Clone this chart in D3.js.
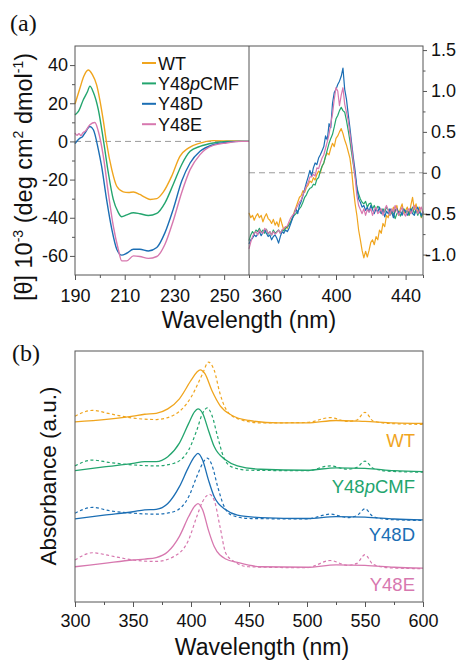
<!DOCTYPE html>
<html>
<head>
<meta charset="utf-8">
<script src="https://cdn.jsdelivr.net/npm/d3@7"></script>
<style>
  body { margin: 0; background: #fff; }
  text { font-family: "Liberation Sans", Arial, Helvetica, sans-serif; fill: #111; }
</style>
</head>
<body>
<div id="chart"></div>
<script>
// ---------------- data ----------------
var variants = ["WT", "Y48pCMF", "Y48D", "Y48E"];
var colors = ["#F0A51E", "#23A56E", "#1B6EB4", "#D778AF"];

// far-UV CD, [nm, theta x 10^-3]
var uvWT = [[190,19.6],[192,28],[193.5,34],[195.3,37.4],[197,35],[198.7,29.6],[200,21.7],[201.5,10],[202.7,-0.7],[204.8,-14.8],[206.8,-23.5],[209.4,-26.4],[211.5,-26.8],[213.5,-26.5],[216.1,-27.8],[218,-29.2],[220.2,-30.4],[222.9,-30],[225.5,-26.6],[228.9,-18.2],[232.2,-7.8],[235.6,-3.5],[240.3,-0.9],[245.6,0.4],[253.6,0.2],[260,0]];
var uvCMF = [[190,13.9],[191.5,16],[193.3,21.7],[195,26],[196,29],[197.3,26],[199.4,16.5],[201.4,0.9],[203.4,-16.4],[205.4,-30.4],[207.4,-37.2],[208.8,-39.5],[210.8,-38.5],[213.5,-37.4],[216.1,-37.9],[219.5,-38.8],[222.9,-37.7],[226.2,-32.2],[229.5,-22.6],[232.9,-12.2],[236.3,-5.2],[240.3,-2.6],[245.6,-0.8],[251,0],[260,0]];
var uvD = [[190,-1.2],[191,0.5],[192,1.7],[193,2.5],[194,4.4],[196,7.8],[197.4,6.1],[199.4,-4.3],[200.7,-13],[202.7,-30.4],[204.8,-46],[206.8,-56.5],[208.8,-59.6],[210.8,-58.6],[213.5,-56.5],[216.1,-56.5],[219.5,-57.4],[222.9,-55.6],[226.2,-47.8],[229.5,-35.6],[232.9,-20.9],[236.3,-11.3],[240.3,-5.2],[245.6,-1.7],[251,-0.5],[256,0],[260,0]];
var uvE = [[190,4.4],[190.8,3.2],[191.6,4.1],[192.4,3.0],[193.2,4.6],[194,5.2],[196,8.7],[198,9.9],[199.4,5.2],[201.4,-7.8],[203.4,-26.9],[205.4,-44.3],[207.4,-56.5],[208.8,-62.6],[210.8,-62.6],[213.5,-60],[216.1,-60.3],[219.5,-61.3],[222.9,-60.3],[226.2,-53.9],[229.5,-41.7],[232.9,-26.9],[236.3,-14.8],[240.3,-6.9],[245.6,-2.1],[251,-0.8],[257,0],[260,0]];

// visible CD, one value per nm from 350 to 450
var visNm = d3.range(350, 451);
var visWT = [-0.49,-0.55,-0.52,-0.58,-0.53,-0.50,-0.55,-0.52,-0.60,-0.54,-0.50,-0.56,-0.58,-0.62,-0.57,-0.64,-0.60,-0.66,-0.55,-0.63,-0.70,-0.66,-0.68,-0.62,-0.60,-0.55,-0.48,-0.42,-0.36,-0.30,-0.28,-0.22,-0.24,-0.18,-0.15,-0.10,-0.12,-0.06,-0.09,-0.02,0.02,0.00,0.08,0.12,0.20,0.24,0.22,0.30,0.36,0.32,0.42,0.45,0.50,0.54,0.48,0.40,0.34,0.26,0.18,0.02,-0.20,-0.38,-0.52,-0.70,-0.82,-0.95,-1.04,-0.96,-1.03,-0.95,-0.85,-0.82,-0.88,-0.78,-0.82,-0.70,-0.74,-0.62,-0.66,-0.52,-0.55,-0.45,-0.50,-0.42,-0.48,-0.40,-0.52,-0.44,-0.38,-0.50,-0.46,-0.42,-0.52,-0.40,-0.30,-0.45,-0.38,-0.50,-0.42,-0.55,-0.48];
var visCMF = [-0.83,-0.76,-0.72,-0.75,-0.70,-0.72,-0.68,-0.73,-0.70,-0.74,-0.69,-0.75,-0.72,-0.76,-0.70,-0.74,-0.72,-0.70,-0.74,-0.70,-0.71,-0.68,-0.66,-0.64,-0.60,-0.55,-0.52,-0.50,-0.47,-0.44,-0.41,-0.36,-0.30,-0.27,-0.22,-0.19,-0.18,-0.14,-0.15,-0.08,-0.06,0.02,0.08,0.12,0.20,0.28,0.36,0.42,0.47,0.56,0.66,0.70,0.76,0.80,0.76,0.74,0.64,0.52,0.39,0.24,0.10,-0.04,-0.18,-0.26,-0.32,-0.36,-0.38,-0.35,-0.42,-0.38,-0.37,-0.44,-0.40,-0.46,-0.41,-0.43,-0.50,-0.44,-0.48,-0.42,-0.45,-0.52,-0.46,-0.50,-0.56,-0.50,-0.47,-0.53,-0.48,-0.44,-0.49,-0.46,-0.52,-0.47,-0.42,-0.50,-0.45,-0.52,-0.46,-0.54,-0.48];
var visD = [-0.87,-0.82,-0.80,-0.76,-0.78,-0.75,-0.72,-0.77,-0.73,-0.70,-0.74,-0.78,-0.76,-0.82,-0.78,-0.76,-0.80,-0.86,-0.78,-0.72,-0.74,-0.70,-0.72,-0.68,-0.62,-0.56,-0.50,-0.44,-0.50,-0.40,-0.35,-0.28,-0.20,-0.12,-0.05,0.03,-0.04,0.06,0.12,0.10,0.18,0.22,0.27,0.32,0.45,0.40,0.60,0.55,0.85,0.98,1.02,1.08,1.12,1.18,1.28,1.02,0.90,0.72,0.55,0.36,0.18,0.02,-0.18,-0.32,-0.36,-0.42,-0.40,-0.46,-0.42,-0.48,-0.40,-0.45,-0.50,-0.44,-0.48,-0.42,-0.50,-0.46,-0.54,-0.47,-0.50,-0.44,-0.48,-0.55,-0.46,-0.44,-0.50,-0.47,-0.52,-0.45,-0.47,-0.52,-0.48,-0.44,-0.50,-0.52,-0.46,-0.42,-0.48,-0.52,-0.47];
var visE = [-0.93,-0.85,-0.78,-0.74,-0.72,-0.76,-0.70,-0.73,-0.74,-0.68,-0.70,-0.74,-0.72,-0.76,-0.72,-0.75,-0.73,-0.70,-0.74,-0.70,-0.68,-0.66,-0.65,-0.60,-0.55,-0.52,-0.50,-0.44,-0.40,-0.36,-0.33,-0.27,-0.22,-0.16,-0.12,-0.05,-0.05,-0.02,-0.04,0.06,0.05,0.12,0.18,0.22,0.30,0.38,0.47,0.60,0.72,0.90,1.04,1.00,0.82,0.95,1.04,0.84,0.74,0.64,0.48,0.31,0.12,-0.06,-0.28,-0.40,-0.45,-0.50,-0.44,-0.52,-0.45,-0.48,-0.44,-0.52,-0.46,-0.42,-0.50,-0.48,-0.44,-0.52,-0.45,-0.40,-0.46,-0.52,-0.44,-0.48,-0.40,-0.46,-0.52,-0.47,-0.42,-0.50,-0.53,-0.46,-0.44,-0.50,-0.46,-0.40,-0.44,-0.50,-0.46,-0.42,-0.50];

// absorbance, [nm, a.u. above the trace baseline]; solid and dashed traces
var absOffsets = [3.7, 2.7, 1.7, 0.7];
var absWT = [[300,0.03],[350,0.15],[360,0.19],[370,0.21],[380,0.30],[390,0.51],[400,0.89],[405,1.06],[408,1.11],[412,1.03],[418,0.68],[425,0.37],[435,0.17],[450,0.06],[475,0.01],[500,0.01],[525,0.06],[550,0.04],[575,0.01],[600,0]];
var absWTd = [[300,0.15],[315,0.27],[330,0.20],[350,0.11],[370,0.08],[385,0.17],[400,0.54],[410,1.03],[415,1.27],[420,1.10],[425,0.62],[430,0.30],[440,0.10],[460,0.01],[500,0.02],[520,0.12],[535,0.04],[543,0.07],[550,0.23],[557,0.05],[570,0],[600,-0.02]];
var absCMF = [[300,0.02],[325,0.10],[350,0.17],[360,0.21],[370,0.21],[380,0.31],[390,0.59],[398,1.0],[403,1.24],[406,1.30],[410,1.21],[415,0.86],[420,0.52],[430,0.24],[440,0.12],[460,0.05],[500,0.03],[525,0.08],[550,0.07],[575,0.02],[600,0]];
var absCMFd = [[300,0.12],[315,0.24],[330,0.19],[350,0.14],[370,0.12],[385,0.17],[398,0.45],[405,0.86],[410,1.21],[414,1.32],[418,1.17],[423,0.72],[428,0.31],[435,0.10],[450,0.03],[500,0.02],[520,0.12],[535,0.05],[543,0.09],[550,0.22],[557,0.07],[570,0.01],[600,-0.01]];
var absD = [[300,0.02],[325,0.10],[350,0.17],[360,0.21],[370,0.22],[380,0.34],[390,0.69],[398,1.10],[403,1.31],[406,1.38],[410,1.24],[415,0.83],[420,0.48],[430,0.21],[440,0.10],[460,0.05],[500,0.03],[525,0.07],[550,0.06],[575,0.02],[600,0]];
var absDd = [[300,0.14],[315,0.26],[330,0.19],[350,0.14],[370,0.12],[385,0.17],[398,0.48],[405,0.90],[410,1.17],[414,1.28],[418,1.14],[423,0.69],[428,0.31],[435,0.10],[450,0.03],[500,0.02],[520,0.12],[535,0.05],[543,0.09],[550,0.23],[557,0.07],[570,0.01],[600,-0.01]];
var absE = [[300,0.03],[325,0.10],[350,0.17],[360,0.19],[370,0.22],[380,0.34],[390,0.66],[398,1.07],[403,1.28],[406,1.34],[410,1.21],[415,0.79],[420,0.45],[430,0.19],[440,0.12],[460,0.03],[500,0.02],[525,0.07],[550,0.06],[575,0.02],[600,0]];
var absEd = [[300,0.17],[315,0.32],[330,0.26],[350,0.17],[370,0.14],[385,0.24],[398,0.59],[405,1.07],[410,1.38],[416,1.53],[420,1.41],[425,0.86],[430,0.31],[437,0.14],[450,0.03],[500,0.01],[520,0.16],[535,0.06],[543,0.10],[550,0.28],[557,0.08],[570,0.01],[600,-0.01]];

var uvSeries = [uvWT, uvCMF, uvD, uvE];
var visSeries = [visWT, visCMF, visD, visE];
var absSolid = [absWT, absCMF, absD, absE];
var absDash = [absWTd, absCMFd, absDd, absEd];

// ---------------- svg ----------------
var svg = d3.select("#chart").append("svg")
  .attr("width", 465).attr("height", 660);

var frameColor = "#555";
var tickFont = "18px";

function styleAxis(g) {
  g.select(".domain").remove();
  g.selectAll(".tick line").attr("stroke", frameColor);
  g.selectAll(".tick text").style("font-size", tickFont).style("fill", "#111");
}
function hyphen(v, digits) {
  if (v === 0) return "0";
  return (v < 0 ? "-" : "") + Math.abs(v).toFixed(digits);
}

// ---------------- panel (a) ----------------
var aTop = 46, aBottom = 275;
var xL = d3.scaleLinear().domain([190, 260]).range([75, 249]);
var xR = d3.scaleLinear().domain([350, 450]).range([249, 423]);
var yL = d3.scaleLinear().domain([-70, 50]).range([aBottom, aTop]);
var yR = d3.scaleLinear().domain([-1.25, 1.55]).range([aBottom, aTop]);

// zero lines
svg.append("line").attr("x1", xL(190)).attr("x2", xL(260)).attr("y1", yL(0)).attr("y2", yL(0))
  .attr("stroke", "#9a9a9a").attr("stroke-width", 1).attr("stroke-dasharray", "6,4");
svg.append("line").attr("x1", xR(350)).attr("x2", xR(450)).attr("y1", yR(0)).attr("y2", yR(0))
  .attr("stroke", "#9a9a9a").attr("stroke-width", 1).attr("stroke-dasharray", "6,4");

var lineUv = d3.line().x(function(d) { return xL(d[0]); }).y(function(d) { return yL(d[1]); })
  .curve(d3.curveMonotoneX);
var lineVis = d3.line().x(function(d, i) { return xR(visNm[i]); }).y(function(d) { return yR(d); });

uvSeries.forEach(function(s, i) {
  svg.append("path").attr("d", lineUv(s)).attr("fill", "none")
    .attr("stroke", colors[i]).attr("stroke-width", 1.4);
});
visSeries.forEach(function(s, i) {
  svg.append("path").attr("d", lineVis(s)).attr("fill", "none")
    .attr("stroke", colors[i]).attr("stroke-width", 1.2).attr("stroke-linejoin", "round");
});

// frames
svg.append("rect").attr("x", xL(190)).attr("y", aTop).attr("width", xR(450) - xL(190)).attr("height", aBottom - aTop)
  .attr("fill", "none").attr("stroke", frameColor).attr("stroke-width", 1);
svg.append("line").attr("x1", xL(260)).attr("x2", xL(260)).attr("y1", aTop).attr("y2", aBottom)
  .attr("stroke", frameColor).attr("stroke-width", 1);

// axes
svg.append("g").attr("transform", "translate(0," + aBottom + ")")
  .call(d3.axisBottom(xL).tickValues([190, 210, 230, 250]).tickSize(5).tickPadding(9).tickFormat(d3.format("d")))
  .call(styleAxis);
svg.append("g").attr("transform", "translate(0," + aBottom + ")")
  .call(d3.axisBottom(xL).tickValues([200, 220, 240, 260]).tickSize(3).tickFormat(""))
  .call(styleAxis);
svg.append("g").attr("transform", "translate(0," + aBottom + ")")
  .call(d3.axisBottom(xR).tickValues([360, 400, 440]).tickSize(5).tickPadding(9).tickFormat(d3.format("d")))
  .call(styleAxis);
svg.append("g").attr("transform", "translate(0," + aBottom + ")")
  .call(d3.axisBottom(xR).tickValues([370, 380, 390, 410, 420, 430, 450]).tickSize(3).tickFormat(""))
  .call(styleAxis);

svg.append("g").attr("transform", "translate(" + xL(190) + ",0)")
  .call(d3.axisLeft(yL).tickValues([-60, -40, -20, 0, 20, 40]).tickSize(5).tickPadding(2)
    .tickFormat(function(d) { return hyphen(d, 0); }))
  .call(styleAxis);
svg.append("g").attr("transform", "translate(" + xL(190) + ",0)")
  .call(d3.axisLeft(yL).tickValues([-50, -30, -10, 10, 30]).tickSize(3).tickFormat(""))
  .call(styleAxis);

var gyr = svg.append("g").attr("transform", "translate(" + xR(450) + ",0)")
  .call(d3.axisRight(yR).tickValues([-1, -0.5, 0, 0.5, 1, 1.5]).tickSize(4).tickPadding(4)
    .tickFormat(function(d) { return hyphen(d, 1); }))
  .call(styleAxis);
gyr.selectAll(".tick text").attr("x", function(d) { return d < 0 ? 2 : 8; });
svg.append("g").attr("transform", "translate(" + xR(450) + ",0)")
  .call(d3.axisRight(yR).tickValues([-0.75, -0.25, 0.25, 0.75, 1.25]).tickSize(2.5).tickFormat(""))
  .call(styleAxis);

// legend
var legend = svg.append("g").attr("transform", "translate(142,63)");
variants.forEach(function(v, i) {
  var row = legend.append("g").attr("transform", "translate(0," + (i * 20.4) + ")");
  row.append("line").attr("x1", 0).attr("x2", 14).attr("y1", 0).attr("y2", 0)
    .attr("stroke", colors[i]).attr("stroke-width", 2);
  var t = row.append("text").attr("x", 16).attr("y", 6.5).style("font-size", "18px");
  if (v === "Y48pCMF") {
    t.append("tspan").text("Y48");
    t.append("tspan").style("font-style", "italic").text("p");
    t.append("tspan").text("CMF");
  } else {
    t.text(v);
  }
});

// titles
svg.append("text").attr("x", 249).attr("y", 328).attr("text-anchor", "middle")
  .style("font-size", "23px").text("Wavelength (nm)");

var yt = svg.append("text").attr("transform", "translate(32,177) rotate(-90)")
  .attr("text-anchor", "middle").style("font-size", "23.5px");
yt.append("tspan").text("[\u03B8] 10");
yt.append("tspan").attr("dy", -9).style("font-size", "14px").text("-3");
yt.append("tspan").attr("dy", 9).text(" (deg cm");
yt.append("tspan").attr("dy", -9).style("font-size", "14px").text("2");
yt.append("tspan").attr("dy", 9).text(" dmol");
yt.append("tspan").attr("dy", -9).style("font-size", "14px").text("-1");
yt.append("tspan").attr("dy", 9).text(")");

svg.append("text").attr("x", 10).attr("y", 31)
  .style("font-family", "'Liberation Serif', 'Times New Roman', serif").style("font-size", "24px").text("(a)");

// ---------------- panel (b) ----------------
var bTop = 351, bBottom = 602;
var xB = d3.scaleLinear().domain([300, 600]).range([75, 423]);
var yB = d3.scaleLinear().domain([0, 5.2]).range([bBottom, bTop]);

absSolid.forEach(function(s, i) {
  var off = absOffsets[i];
  var ln = d3.line().x(function(d) { return xB(d[0]); }).y(function(d) { return yB(off + d[1]); })
    .curve(d3.curveMonotoneX);
  svg.append("path").attr("d", ln(absDash[i])).attr("fill", "none")
    .attr("stroke", colors[i]).attr("stroke-width", 1.2).attr("stroke-dasharray", "3,2.5");
  svg.append("path").attr("d", ln(s)).attr("fill", "none")
    .attr("stroke", colors[i]).attr("stroke-width", 1.3);
});

svg.append("rect").attr("x", xB(300)).attr("y", bTop).attr("width", xB(600) - xB(300)).attr("height", bBottom - bTop)
  .attr("fill", "none").attr("stroke", frameColor).attr("stroke-width", 1);

svg.append("g").attr("transform", "translate(0," + bBottom + ")")
  .call(d3.axisBottom(xB).tickValues([300, 350, 400, 450, 500, 550, 600]).tickSize(5).tickPadding(7).tickFormat(d3.format("d")))
  .call(styleAxis);
svg.append("g").attr("transform", "translate(0," + bBottom + ")")
  .call(d3.axisBottom(xB).tickValues([325, 375, 425, 475, 525, 575]).tickSize(3).tickFormat(""))
  .call(styleAxis);

var labelY = [446.5, 493, 541, 591];
variants.forEach(function(v, i) {
  var t = svg.append("text").attr("x", 415).attr("y", labelY[i]).attr("text-anchor", "end")
    .style("font-size", "18.5px").style("fill", colors[i]);
  if (v === "Y48pCMF") {
    t.append("tspan").text("Y48");
    t.append("tspan").style("font-style", "italic").text("p");
    t.append("tspan").text("CMF");
  } else {
    t.text(v);
  }
});

svg.append("text").attr("x", 262).attr("y", 655).attr("text-anchor", "middle")
  .style("font-size", "23px").text("Wavelength (nm)");
svg.append("text").attr("transform", "translate(56,476) rotate(-90)").attr("text-anchor", "middle")
  .style("font-size", "22.5px").text("Absorbance (a.u.)");

svg.append("text").attr("x", 12).attr("y", 361)
  .style("font-family", "'Liberation Serif', 'Times New Roman', serif").style("font-size", "24px").text("(b)");
</script>
</body>
</html>
